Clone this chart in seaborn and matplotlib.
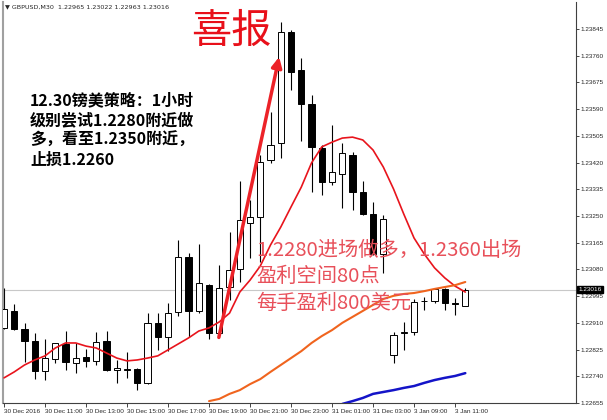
import numpy as np
import pandas as pd
import matplotlib
matplotlib.use('Agg')
import matplotlib.pyplot as plt
import seaborn as sns

# GBPUSD M30 candles
opens = [1.22894, 1.22948, 1.22890, 1.22852, 1.22757, 1.22795, 1.22843, 1.22782, 1.22801, 1.22789,
         1.22852, 1.22760, 1.22760, 1.22763, 1.22719, 1.22910, 1.22865, 1.22945, 1.23120, 1.22948,
         1.23030, 1.22878, 1.23024, 1.23082, 1.23228, 1.23247, 1.23428, 1.23482, 1.23835, 1.23715,
         1.23606, 1.23466, 1.23357, 1.23384, 1.23444, 1.23326, 1.23256, 1.23129, 1.22808, 1.22878,
         1.22881, 1.22980, 1.22980, 1.23018, 1.22973, 1.22965]
highs = [1.23020, 1.22970, 1.22910, 1.22878, 1.22859, 1.22846, 1.22884, 1.22846, 1.22827, 1.22881,
         1.22884, 1.22792, 1.22817, 1.22766, 1.22941, 1.22941, 1.22973, 1.23174, 1.23132, 1.23161,
         1.23034, 1.23094, 1.23199, 1.23361, 1.23301, 1.23444, 1.23581, 1.23867, 1.23842, 1.23753,
         1.23635, 1.23476, 1.23540, 1.23482, 1.23454, 1.23361, 1.23295, 1.23253, 1.22881, 1.22913,
         1.22986, 1.22992, 1.23021, 1.23021, 1.22989, 1.23022]
lows = [1.22890, 1.22887, 1.22785, 1.22731, 1.22728, 1.22782, 1.22760, 1.22750, 1.22770, 1.22776,
        1.22757, 1.22719, 1.22735, 1.22696, 1.22715, 1.22824, 1.22820, 1.22932, 1.22865, 1.22941,
        1.22859, 1.22871, 1.22983, 1.23040, 1.23116, 1.23104, 1.23419, 1.23435, 1.23651, 1.23489,
        1.23326, 1.23317, 1.23349, 1.23275, 1.23269, 1.23253, 1.23126, 1.23069, 1.22782, 1.22824,
        1.22871, 1.22951, 1.22973, 1.22951, 1.22935, 1.22963]
closes = [1.22954, 1.22890, 1.22852, 1.22757, 1.22798, 1.22846, 1.22785, 1.22798, 1.22789, 1.22849,
          1.22760, 1.22766, 1.22762, 1.22719, 1.22910, 1.22865, 1.22941, 1.23120, 1.22948, 1.23037,
          1.22878, 1.23021, 1.23079, 1.23237, 1.23247, 1.23423, 1.23476, 1.23835, 1.23708, 1.23606,
          1.23470, 1.23357, 1.23390, 1.23450, 1.23326, 1.23256, 1.23129, 1.23240, 1.22871, 1.22881,
          1.22976, 1.22981, 1.23018, 1.22973, 1.22970, 1.23016]

# moving averages (red: every bar, orange from bar 20, blue from bar 33)
ma_red = [1.22735, 1.22754, 1.22776, 1.22792, 1.22805, 1.22830, 1.22846, 1.22846, 1.22836, 1.22830,
          1.22814, 1.22798, 1.22789, 1.22792, 1.22798, 1.22805, 1.22824, 1.22843, 1.22862, 1.22884,
          1.22894, 1.22913, 1.22941, 1.23008, 1.23046, 1.23091, 1.23158, 1.23215, 1.23279, 1.23342,
          1.23419, 1.23470, 1.23485, 1.23498, 1.23501, 1.23492, 1.23460, 1.23406, 1.23336, 1.23256,
          1.23180, 1.23129, 1.23085, 1.23053, 1.23027, 1.23008]
ma_orange = [1.22661, 1.22668, 1.22684, 1.22696, 1.22715, 1.22731, 1.22754, 1.22776, 1.22798, 1.22820,
             1.22846, 1.22868, 1.22887, 1.22910, 1.22929, 1.22948, 1.22967, 1.22986, 1.22996, 1.23002,
             1.23005, 1.23011, 1.23018, 1.23024, 1.23030, 1.23040]
ma_blue = [1.22652, 1.22661, 1.22671, 1.22684, 1.22690, 1.22696, 1.22703, 1.22709, 1.22719, 1.22728,
           1.22735, 1.22741, 1.22750]

x_labels = ['30 Dec 2016', '30 Dec 11:00', '30 Dec 13:00', '30 Dec 15:00', '30 Dec 17:00',
            '30 Dec 19:00', '30 Dec 21:00', '30 Dec 23:00', '31 Dec 01:00', '31 Dec 03:00',
            '3 Jan 09:00', '3 Jan 11:00']
y_ticks = [1.22655, 1.22740, 1.22825, 1.22910, 1.22995, 1.23080, 1.23165, 1.23250,
           1.23335, 1.23420, 1.23505, 1.23590, 1.23675, 1.23760, 1.23845]
last_price = 1.23016
header = 'GBPUSD,M30  1.22965 1.23022 1.22963 1.23016'

title_txt = '喜报'
plan_txt = '12.30镑美策略：1小时\n级别尝试1.2280附近做\n多，看至1.2350附近，\n止损1.2260'
result_txt = '1.2280进场做多，1.2360出场\n盈利空间80点\n每手盈利800美元'

sns.set_style('white')
plt.rcParams['font.family'] = ['Liberation Sans', 'DejaVu Sans']
cjk = ['Noto Sans CJK SC', 'DejaVu Sans']

df = pd.DataFrame({'o': opens, 'h': highs, 'l': lows, 'c': closes})
df['up'] = df.c >= df.o
df['bottom'] = df[['o', 'c']].min(axis=1)
df['height'] = (df.c - df.o).abs()

fig = plt.figure(figsize=(6.07, 4.20), dpi=100)
ax = fig.add_axes([3 / 607, 17 / 420, 573 / 607, 401 / 420])

ax.axhline(last_price, color='#c8c8c8', lw=0.8, zorder=1)
ax.vlines(df.index, df.l, df.h, color='black', lw=0.8, zorder=2)
ax.bar(df.index, df.height, bottom=df.bottom, width=0.6,
       color=np.where(df.up, 'white', 'black'), edgecolor='black', lw=0.7, zorder=3)

n = len(df)
sns.lineplot(x=list(range(n)), y=ma_red, ax=ax, color='#e8141c', lw=1.2, zorder=4)
sns.lineplot(x=list(range(n - len(ma_orange), n)), y=ma_orange, ax=ax, color='#f0641e', lw=1.5, zorder=4)
sns.lineplot(x=list(range(n - len(ma_blue), n)), y=ma_blue, ax=ax, color='#1414c8', lw=1.8, zorder=4)

# arrow pointing at the top
ax.annotate('', xy=(26.9, 1.23765), xytext=(20.9, 1.22855),
            arrowprops=dict(arrowstyle='-|>', color='#ec2228', lw=2.5, mutation_scale=15), zorder=5)

ax.set_xlim(-0.1, 55.8)
ax.set_ylim(1.22655, 1.23931)
ax.set_xticks(range(0, 4 * len(x_labels), 4))
ax.set_xticklabels(x_labels)
for lb in ax.get_xticklabels():
    lb.set_horizontalalignment('left')
ax.yaxis.tick_right()
ax.set_yticks(y_ticks)
ax.set_yticklabels(['%.5f' % v for v in y_ticks])
ax.tick_params(axis='x', bottom=True, length=3, width=0.6, labelsize=4.6, pad=1)
ax.tick_params(axis='y', right=True, length=2, width=0.6, labelsize=4.6, pad=1.5)
ax.set_xlabel('')
ax.set_ylabel('')
ax.spines['top'].set_visible(False)
ax.spines['left'].set_color('#a0a0a0')
ax.spines['left'].set_linewidth(1.5)
ax.spines['right'].set_color('#404040')
ax.spines['bottom'].set_color('#404040')
ax.spines['right'].set_linewidth(0.8)
ax.spines['bottom'].set_linewidth(0.8)

ax.text(1.004, last_price, '%.5f' % last_price, transform=ax.get_yaxis_transform(),
        va='center', ha='left', fontsize=4.6, color='white', clip_on=False, zorder=10,
        bbox=dict(facecolor='black', edgecolor='black', pad=1.0))

fig.text(5 / 607, 1 - 7 / 420, '▼ ' + header, fontsize=4.6, va='center', ha='left',
         family=['DejaVu Sans'])
fig.text(231 / 607, 1 - 31 / 420, title_txt, fontsize=29, color='#e8101a', ha='center', va='center',
         family=cjk)
fig.text(30 / 607, 1 - 92 / 420, plan_txt, fontsize=11.5, fontweight='bold', color='black',
         ha='left', va='top', linespacing=1.3, family=cjk)
fig.text(256 / 607, 1 - 240 / 420, result_txt, fontsize=14.6, color='#e8505a',
         ha='left', va='top', linespacing=1.33, family=cjk)

fig.savefig('out.png', dpi=100)
